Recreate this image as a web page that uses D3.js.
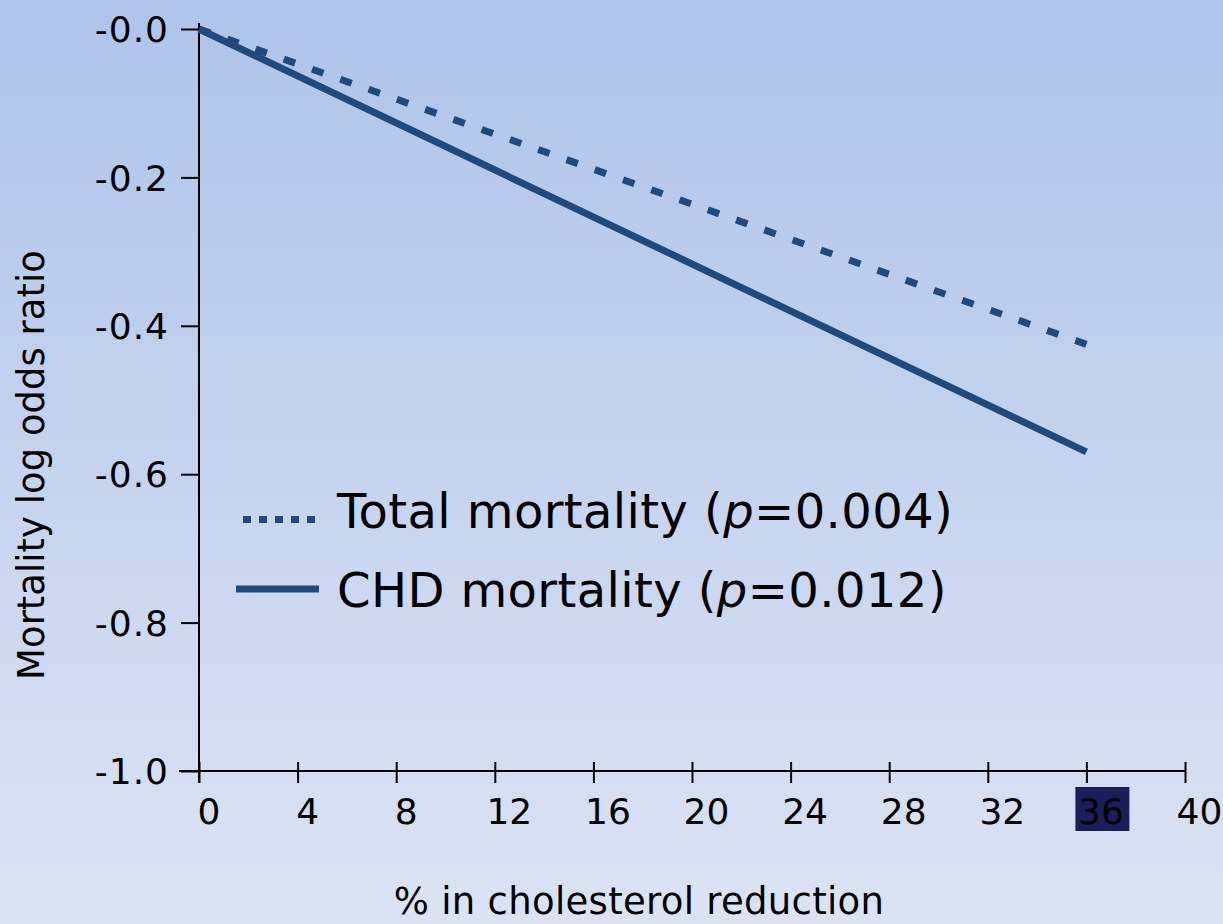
<!DOCTYPE html>
<html>
<head>
<meta charset="utf-8">
<script src="https://cdn.jsdelivr.net/npm/d3@7"></script>
<style>
  html, body { margin: 0; padding: 0; }
  body { width: 1223px; height: 924px; overflow: hidden; }
  svg { display: block; font-family: "DejaVu Sans", Verdana, sans-serif; }
</style>
</head>
<body>
<svg id="chart" width="1223" height="924"></svg>
<script>
// ---- data ----
const xValues = [0, 36];                 // % cholesterol reduction
const totalMortality = [0, -0.425];      // log odds ratio
const chdMortality = [0, -0.570];
const xTicks = [0, 4, 8, 12, 16, 20, 24, 28, 32, 36, 40];
const yTicks = [0, -0.2, -0.4, -0.6, -0.8, -1.0];
const yTickLabels = ["-0.0", "-0.2", "-0.4", "-0.6", "-0.8", "-1.0"];
const seriesNames = ["Total mortality", "CHD mortality"];
const pValues = ["0.004", "0.012"];
const highlightTick = 36;

const W = 1223, H = 924;
const svg = d3.select("#chart");
const lineColor = "#1e4a7e";

// background gradient
const defs = svg.append("defs");
const grad = defs.append("linearGradient").attr("id", "bg")
  .attr("x1", 0).attr("y1", 0).attr("x2", 0).attr("y2", 1);
grad.append("stop").attr("offset", "0%").attr("stop-color", "#aec4e9");
grad.append("stop").attr("offset", "100%").attr("stop-color", "#dbe3f3");
svg.append("rect").attr("width", W).attr("height", H).attr("fill", "url(#bg)");

const x = d3.scaleLinear().domain([0, 40]).range([199, 1185]);
const y = d3.scaleLinear().domain([0, -1]).range([29, 771]);

// highlight box behind the 36 label
svg.append("rect")
  .attr("x", x(highlightTick) - 11).attr("y", 787)
  .attr("width", 54).attr("height", 44)
  .attr("fill", "#1a1f5c");

// x axis
const xAxis = svg.append("g").attr("transform", `translate(0,${y(-1)})`)
  .call(d3.axisBottom(x).tickValues(xTicks).tickSize(12).tickSizeOuter(0).tickFormat(d3.format("d")));
xAxis.select(".domain").remove();
xAxis.append("line").attr("x1", 179).attr("x2", x(40)).attr("y1", 0).attr("y2", 0)
  .attr("stroke", "#000").attr("stroke-width", 2);
xAxis.selectAll(".tick line").attr("y1", -9).attr("y2", 12).attr("stroke", "#000").attr("stroke-width", 2);
xAxis.selectAll(".tick text")
  .attr("y", 53).attr("dy", 0)
  .attr("dx", d => d < 10 ? 9.5 : 14)
  .attr("fill", "#000")
  .style("font-size", "36px")
  .style("font-family", "DejaVu Sans, sans-serif");

// y axis
const yAxis = svg.append("g").attr("transform", `translate(${x(0)},0)`)
  .call(d3.axisLeft(y).tickValues(yTicks).tickSize(18).tickSizeOuter(0)
    .tickFormat((d, i) => yTickLabels[i]));
yAxis.select(".domain").remove();
yAxis.append("line").attr("x1", 0).attr("x2", 0).attr("y1", 23).attr("y2", 783)
  .attr("stroke", "#000").attr("stroke-width", 2);
yAxis.selectAll(".tick line").attr("stroke", "#000").attr("stroke-width", 2);
yAxis.selectAll(".tick text")
  .attr("x", -30).attr("dy", "0.35em")
  .attr("fill", "#000")
  .style("font-size", "36px")
  .style("letter-spacing", "1px")
  .style("font-family", "DejaVu Sans, sans-serif");

// lines
const line = d3.line().x(d => x(d[0])).y(d => y(d[1]));
svg.append("path")
  .datum(xValues.map((v, i) => [v, totalMortality[i]]))
  .attr("d", line).attr("fill", "none")
  .attr("stroke", lineColor).attr("stroke-width", 7)
  .attr("stroke-dasharray", "12,18");
svg.append("path")
  .datum(xValues.map((v, i) => [v, chdMortality[i]]))
  .attr("d", line).attr("fill", "none")
  .attr("stroke", lineColor).attr("stroke-width", 7);

// legend
const legend = svg.append("g");
legend.append("line").attr("x1", 243).attr("x2", 316).attr("y1", 519.5).attr("y2", 519.5)
  .attr("stroke", lineColor).attr("stroke-width", 7).attr("stroke-dasharray", "8,8");
legend.append("line").attr("x1", 236).attr("x2", 319).attr("y1", 589).attr("y2", 589)
  .attr("stroke", lineColor).attr("stroke-width", 7);

const legendY = [528, 607];
seriesNames.forEach((name, i) => {
  const t = legend.append("text").attr("x", 337).attr("y", legendY[i])
    .style("font-size", "48px").style("letter-spacing", "0.4px").attr("fill", "#000");
  t.append("tspan").text(name + " (");
  t.append("tspan").style("font-style", "italic").text("p");
  t.append("tspan").text("=" + pValues[i] + ")");
});

// axis titles
svg.append("text")
  .attr("transform", `translate(44,465) rotate(-90)`)
  .attr("text-anchor", "middle")
  .style("font-size", "37px").attr("fill", "#000")
  .text("Mortality log odds ratio");
svg.append("text")
  .attr("x", 639).attr("y", 914)
  .attr("text-anchor", "middle")
  .style("font-size", "37px").style("letter-spacing", "0.3px").attr("fill", "#000")
  .text("% in cholesterol reduction");
</script>
</body>
</html>
